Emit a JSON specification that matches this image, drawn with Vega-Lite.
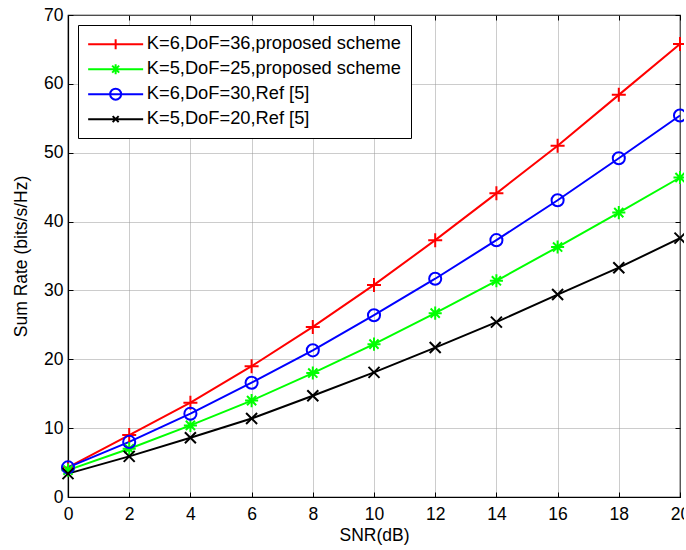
{
  "$schema": "https://vega.github.io/schema/vega-lite/v6.json",
  "width": 612,
  "height": 482,
  "autosize": {"type": "none"},
  "padding": {"left": 68, "top": 15, "right": 4, "bottom": 53},
  "background": "white",
  "config": {
    "font": "Liberation Sans",
    "view": {"stroke": "black", "strokeWidth": 1.2},
    "axis": {
      "labelFont": "Liberation Sans",
      "labelFontSize": 17.5,
      "labelColor": "black",
      "titleFont": "Liberation Sans",
      "titleFontSize": 17.5,
      "titleFontWeight": "normal",
      "titleColor": "black",
      "domainColor": "black",
      "domainWidth": 1.2,
      "ticks": true,
      "tickSize": -5,
      "tickColor": "black",
      "tickWidth": 1,
      "grid": true,
      "gridColor": "#999999",
      "gridDash": [1, 1],
      "gridWidth": 1
    },
    "legend": {
      "labelFont": "Liberation Sans"
    }
  },
  "resolve": {"axis": {"x": "independent", "y": "independent"}},
  "data": {
    "values": [
      {"snr": 0, "rate": 4.3, "series": "K=6,DoF=36,proposed scheme"},
      {"snr": 2, "rate": 9.0, "series": "K=6,DoF=36,proposed scheme"},
      {"snr": 4, "rate": 13.7, "series": "K=6,DoF=36,proposed scheme"},
      {"snr": 6, "rate": 19.0, "series": "K=6,DoF=36,proposed scheme"},
      {"snr": 8, "rate": 24.7, "series": "K=6,DoF=36,proposed scheme"},
      {"snr": 10, "rate": 30.8, "series": "K=6,DoF=36,proposed scheme"},
      {"snr": 12, "rate": 37.3, "series": "K=6,DoF=36,proposed scheme"},
      {"snr": 14, "rate": 44.1, "series": "K=6,DoF=36,proposed scheme"},
      {"snr": 16, "rate": 51.0, "series": "K=6,DoF=36,proposed scheme"},
      {"snr": 18, "rate": 58.4, "series": "K=6,DoF=36,proposed scheme"},
      {"snr": 20, "rate": 65.8, "series": "K=6,DoF=36,proposed scheme"},
      {"snr": 0, "rate": 3.9, "series": "K=5,DoF=25,proposed scheme"},
      {"snr": 2, "rate": 7.0, "series": "K=5,DoF=25,proposed scheme"},
      {"snr": 4, "rate": 10.4, "series": "K=5,DoF=25,proposed scheme"},
      {"snr": 6, "rate": 14.0, "series": "K=5,DoF=25,proposed scheme"},
      {"snr": 8, "rate": 18.0, "series": "K=5,DoF=25,proposed scheme"},
      {"snr": 10, "rate": 22.2, "series": "K=5,DoF=25,proposed scheme"},
      {"snr": 12, "rate": 26.7, "series": "K=5,DoF=25,proposed scheme"},
      {"snr": 14, "rate": 31.4, "series": "K=5,DoF=25,proposed scheme"},
      {"snr": 16, "rate": 36.3, "series": "K=5,DoF=25,proposed scheme"},
      {"snr": 18, "rate": 41.3, "series": "K=5,DoF=25,proposed scheme"},
      {"snr": 20, "rate": 46.4, "series": "K=5,DoF=25,proposed scheme"},
      {"snr": 0, "rate": 4.3, "series": "K=6,DoF=30,Ref [5]"},
      {"snr": 2, "rate": 8.0, "series": "K=6,DoF=30,Ref [5]"},
      {"snr": 4, "rate": 12.1, "series": "K=6,DoF=30,Ref [5]"},
      {"snr": 6, "rate": 16.6, "series": "K=6,DoF=30,Ref [5]"},
      {"snr": 8, "rate": 21.3, "series": "K=6,DoF=30,Ref [5]"},
      {"snr": 10, "rate": 26.4, "series": "K=6,DoF=30,Ref [5]"},
      {"snr": 12, "rate": 31.7, "series": "K=6,DoF=30,Ref [5]"},
      {"snr": 14, "rate": 37.3, "series": "K=6,DoF=30,Ref [5]"},
      {"snr": 16, "rate": 43.1, "series": "K=6,DoF=30,Ref [5]"},
      {"snr": 18, "rate": 49.2, "series": "K=6,DoF=30,Ref [5]"},
      {"snr": 20, "rate": 55.4, "series": "K=6,DoF=30,Ref [5]"},
      {"snr": 0, "rate": 3.4, "series": "K=5,DoF=20,Ref [5]"},
      {"snr": 2, "rate": 5.9, "series": "K=5,DoF=20,Ref [5]"},
      {"snr": 4, "rate": 8.6, "series": "K=5,DoF=20,Ref [5]"},
      {"snr": 6, "rate": 11.4, "series": "K=5,DoF=20,Ref [5]"},
      {"snr": 8, "rate": 14.7, "series": "K=5,DoF=20,Ref [5]"},
      {"snr": 10, "rate": 18.1, "series": "K=5,DoF=20,Ref [5]"},
      {"snr": 12, "rate": 21.7, "series": "K=5,DoF=20,Ref [5]"},
      {"snr": 14, "rate": 25.4, "series": "K=5,DoF=20,Ref [5]"},
      {"snr": 16, "rate": 29.4, "series": "K=5,DoF=20,Ref [5]"},
      {"snr": 18, "rate": 33.3, "series": "K=5,DoF=20,Ref [5]"},
      {"snr": 20, "rate": 37.6, "series": "K=5,DoF=20,Ref [5]"}
    ]
  },
  "encoding": {
    "color": {
      "field": "series",
      "type": "nominal",
      "sort": null,
      "scale": {
        "domain": ["K=6,DoF=36,proposed scheme", "K=5,DoF=25,proposed scheme", "K=6,DoF=30,Ref [5]", "K=5,DoF=20,Ref [5]"],
        "range": ["#ff0000", "#00ff00", "#0000ff", "#000000"]
      },
      "legend": {
        "title": null,
        "orient": "top-left",
        "offset": 10,
        "padding": 10,
        "strokeColor": "black",
        "fillColor": "white",
        "labelFontSize": 18.3,
        "labelColor": "black",
        "symbolSize": 100,
        "symbolOffset": 18.5,
        "labelOffset": 22,
        "rowPadding": 5,
        "symbolStrokeWidth": 2,
        "labelLimit": 400,
        "encode": {
          "symbols": {
            "update": {
              "shape": {"signal": "datum.index === 0 ? 'M-5.5,0L5.5,0M0,-1L0,1' : datum.index === 1 ? 'M-5.5,0L5.5,0M0,-1L0,1M-0.7,-0.7L0.7,0.7M-0.7,0.7L0.7,-0.7' : datum.index === 2 ? 'M-5.5,0L5.5,0M1.1,0A1.1,1.1 0 1,1 -1.1,0A1.1,1.1 0 1,1 1.1,0' : 'M-5.5,0L5.5,0M-0.6,-0.6L0.6,0.6M-0.6,0.6L0.6,-0.6'"},
              "size": {"value": 100},
              "fill": {"value": "transparent"},
              "stroke": {"scale": "color", "field": "value"},
              "strokeWidth": {"value": 2},
              "opacity": {"value": 1}
            }
          }
        }
      }
    }
  },
  "layer": [
    {
      "mark": {"type": "line", "strokeWidth": 2},
      "encoding": {
        "x": {
          "field": "snr",
          "type": "quantitative",
          "title": "SNR(dB)",
          "scale": {"domain": [0, 20], "nice": false},
          "axis": {"values": [0, 2, 4, 6, 8, 10, 12, 14, 16, 18, 20], "labelPadding": 13, "titlePadding": 4, "labelFlush": false}
        },
        "y": {
          "field": "rate",
          "type": "quantitative",
          "title": "Sum Rate (bits/s/Hz)",
          "scale": {"domain": [0, 70], "nice": false},
          "axis": {"values": [0, 10, 20, 30, 40, 50, 60, 70], "labelPadding": 10, "titlePadding": 13}
        }
      }
    },
    {
      "transform": [{"calculate": "datum.series", "as": "mk"}],
      "mark": {"type": "point", "filled": false, "strokeWidth": 2, "opacity": 1},
      "encoding": {
        "x": {
          "field": "snr",
          "type": "quantitative",
          "axis": {"orient": "top", "values": [0, 2, 4, 6, 8, 10, 12, 14, 16, 18, 20], "labels": false, "grid": false, "domain": false, "title": null}
        },
        "y": {
          "field": "rate",
          "type": "quantitative",
          "axis": {"orient": "right", "values": [0, 10, 20, 30, 40, 50, 60, 70], "labels": false, "grid": false, "domain": false, "title": null}
        },
        "shape": {
          "field": "mk",
          "type": "nominal",
          "sort": null,
          "legend": null,
          "scale": {
            "range": ["M-1,0L1,0M0,-1L0,1", "M-1,0L1,0M0,-1L0,1M-0.7,-0.7L0.7,0.7M-0.7,0.7L0.7,-0.7", "circle", "M-1,-1L1,1M-1,1L1,-1"]
          }
        },
        "size": {
          "field": "mk",
          "type": "nominal",
          "sort": null,
          "legend": null,
          "scale": {
            "range": [196, 121, 144, 49]
          }
        }
      }
    }
  ]
}
